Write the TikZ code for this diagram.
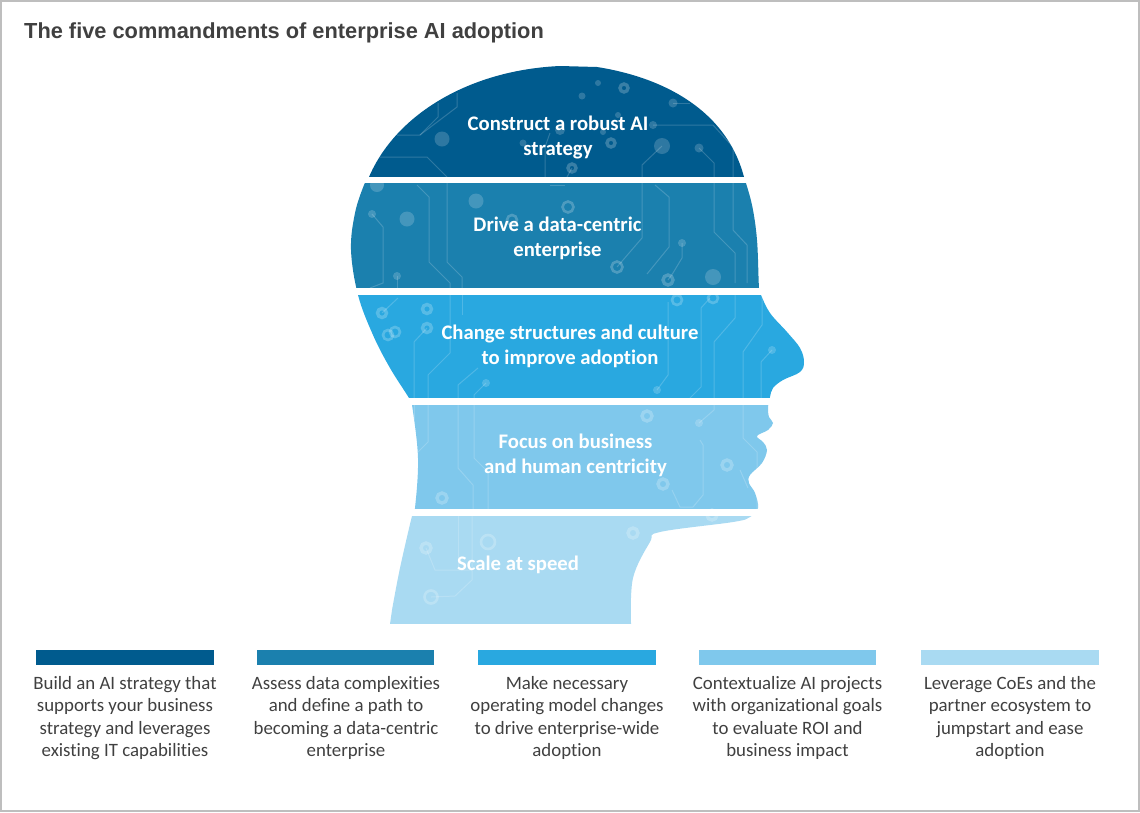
\documentclass[tikz,border=0pt]{standalone}
\usepackage{fontspec}
\setmainfont[Ligatures=NoCommon]{Carlito}
\newfontfamily\titlefont{Liberation Sans}
\definecolor{bandone}{HTML}{005B8E}
\definecolor{bandtwo}{HTML}{1B80AE}
\definecolor{bandthree}{HTML}{29A8E0}
\definecolor{bandfour}{HTML}{7FC8EC}
\definecolor{bandfive}{HTML}{A9DAF2}
\definecolor{capgray}{HTML}{404040}
\definecolor{framegray}{HTML}{BEBEBE}
\def\headpath{(390,624) -- plot[smooth,tension=.6] coordinates {(392,610) (400,568) (412,516) (415,508) (418,458) (412,405) (409,398) (390,368) (373,335) (358,295) (351,250) (355,213) (364,185) (369,177)} .. controls (396,114) and (470,70) .. (560,66) -- (597,67) .. controls (655,76) and (725,105) .. (744,177) -- plot[smooth,tension=.6] coordinates {(744,177) (752,205) (757,240) (759,288) (761,295) (770,313) (787,332) (800,348) (804,362) (800,372) (783,380) (773,388) (770,397) (768,407) (769,417) (773,423) (768,430) (757,436) (763,442) (767,450) (762,463) (750,475) (749,483) (755,493) (758,508) (750,517) (733,522) (660,532) (650,542) (633,578) (631,623)} -- (631,624) -- cycle}
\tikzset{
  band/.style={font=\fontsize{20.7}{25}\selectfont\bfseries, text=white, align=center, inner sep=0pt},
  capt/.style={font=\fontsize{18.85}{22.5}\selectfont, text=capgray, align=center, inner sep=0pt},
  trace/.style={draw=white, draw opacity=.18, line width=1pt},
  dot/.style={fill=white, fill opacity=.18},
  ring/.style={draw=white, draw opacity=.22, line width=3.4pt},
  hollow/.style={draw=white, draw opacity=.22, line width=2.6pt}
}
\begin{document}
\begin{tikzpicture}[x=1pt,y=-1pt]
\useasboundingbox (0,0) rectangle (1140,812);
\draw[framegray, line width=2pt] (1,1) rectangle (1139,811);

\node[anchor=west, inner sep=0pt, font=\titlefont\fontsize{21.8}{24}\selectfont\bfseries, text=capgray] (title) at (24,33) {The five commandments of enterprise AI adoption};

\begin{scope}
\clip \headpath;
\fill[bandone] (340,50) rectangle (820,177);
\fill[bandtwo] (340,183) rectangle (820,288);
\fill[bandthree] (340,295) rectangle (820,398);
\fill[bandfour] (340,405) rectangle (820,509);
\fill[bandfive] (340,516) rectangle (820,624);

\draw[trace] (457,93) -- (457,107) -- (420,135) -- (397,135);
\draw[trace] (438,103) -- (438,117) -- (420,135);
\draw[trace] (373,157) -- (427,157) -- (447,177);
\draw[trace] (673,103) -- (690,103);
\draw[trace] (653,125) -- (713,125) -- (733,147) -- (733,177);
\draw[trace] (733,183) -- (733,230) -- (747,245) -- (747,283);
\draw[trace] (662,146) -- (642,165) -- (642,177);
\draw[trace] (642,183) -- (642,238) -- (617,267);
\draw[trace] (699,148) -- (714,163) -- (714,177);
\draw[trace] (714,183) -- (714,232) -- (735,253) -- (735,283);
\draw[trace] (572,168) -- (567,177);
\draw[trace] (565,185) -- (550,185);
\draw[trace] (545,177) -- (545,147) -- (550,133);
\draw[trace] (417,185) -- (429,197) -- (429,262) -- (450,283) -- (450,288);
\draw[trace] (447,183) -- (447,262) -- (462,277) -- (462,288);
\draw[trace] (372,214) -- (383,227) -- (383,283) -- (370,288);
\draw[trace] (397,276) -- (397,288);
\draw[trace] (655,185) -- (669,197) -- (669,247) -- (647,274);
\draw[line width=2.4pt, trace] (682,243) -- (682,258) -- (673,273) -- (668,280);

\draw[trace] (382,313) -- (398,298);
\draw[trace] (427,328) -- (414,342) -- (414,398);
\draw[trace] (414,405) -- (414,420);
\draw[trace] (450,295) -- (450,353) -- (428,375) -- (428,398);
\draw[trace] (428,405) -- (428,442) -- (418,452);
\draw[trace] (462,295) -- (462,315);
\draw[trace] (478,368) -- (458,385) -- (458,398);
\draw[trace] (458,405) -- (458,468) -- (473,485) -- (473,509);
\draw[trace] (486,383) -- (474,395) -- (474,398);
\draw[trace] (474,405) -- (474,458) -- (488,472) -- (488,509);
\draw[trace] (668,302) -- (668,375) -- (657,390);
\draw[trace] (735,295) -- (735,318) -- (714,342) -- (714,398);
\draw[trace] (714,405) -- (714,410) -- (699,423);
\draw[trace] (710,298) -- (701,308) -- (701,387) -- (690,398);
\draw[trace] (762,295) -- (762,325) -- (743,352) -- (743,398);
\draw[trace] (743,405) -- (743,438) -- (757,452) -- (757,509);
\draw[trace] (772,350) -- (761,362) -- (761,398);
\draw[trace] (700,440) -- (703,445) -- (703,495) -- (693,507) -- (680,507) -- (672,490);
\draw[trace] (740,470) -- (748,488);

\draw[trace] (426,548) -- (435,570) -- (472,570);
\draw[trace] (431,597) -- (455,596) -- (472,580) -- (472,516);
\draw[trace] (458,516) -- (458,568);

\fill[dot] (442,139) circle (7.5);
\fill[dot] (582,96) circle (3.5);
\fill[dot] (598,83) circle (3);
\fill[dot] (673,103) circle (4.5);
\fill[dot] (653,125) circle (4);
\fill[dot] (662,146) circle (8);
\fill[dot] (699,148) circle (4.5);
\fill[dot] (523,143) circle (3.5);
\fill[dot] (560,130) circle (5);
\fill[dot] (603,132) circle (3);
\fill[dot] (618,115) circle (3);
\fill[dot] (476,201) circle (7.5);
\fill[dot] (407,219) circle (7.5);
\fill[dot] (372,214) circle (4);
\fill[dot] (397,276) circle (4);
\fill[dot] (377,185) circle (7);
\fill[dot] (682,243) circle (4);
\fill[dot] (713,277) circle (8);
\fill[dot] (486,383) circle (4);
\fill[dot] (657,390) circle (4);
\fill[dot] (699,423) circle (4);
\fill[dot] (772,350) circle (4);

\draw[ring] (624,88) circle (4);
\draw[ring] (611,143) circle (4);
\draw[ring] (572,168) circle (4);
\draw[hollow] (568,207) circle (5.5);
\draw[hollow] (512,220) circle (5);
\draw[hollow] (617,267) circle (5.5);
\draw[ring] (668,280) circle (5);
\draw[ring] (382,313) circle (4.5);
\draw[ring] (427,309) circle (4.5);
\draw[hollow] (395,332) circle (5);
\draw[hollow] (388,335) circle (5);
\draw[ring] (427,328) circle (4.5);
\draw[hollow] (677,300) circle (5);
\draw[hollow] (713,298) circle (5);
\draw[ring] (647,416) circle (5);
\draw[ring] (727,465) circle (5);
\draw[ring] (663,484) circle (5);
\draw[ring] (442,498) circle (5);
\draw[ring] (426,548) circle (5);
\draw[hollow] (431,597) circle (6.5);
\draw[hollow] (488,542) circle (7);
\draw[ring] (633,533) circle (5);
\draw[ring] (712,515) circle (5);
\end{scope}

\node[band] (strategy) at (558,137.5) {Construct a robust AI\\strategy};
\node[band] (data) at (557.5,238) {Drive a data-centric\\enterprise};
\node[band] (culture) at (570,346) {Change structures and culture\\to improve adoption};
\node[band] (focus) at (575.5,455) {Focus on business\\and human centricity};
\node[band] (scale) at (518,564.5) {Scale at speed};

\fill[bandone] (36,650) rectangle (214,665);
\fill[bandtwo] (257,650) rectangle (434,665);
\fill[bandthree] (478,650) rectangle (656,665);
\fill[bandfour] (699,650) rectangle (876,665);
\fill[bandfive] (921,650) rectangle (1099,665);

\node[capt] (captone) at (125,718) {Build an AI strategy that\\supports your business\\strategy and leverages\\existing IT capabilities};
\node[capt] (capttwo) at (346,718) {Assess data complexities\\and define a path to\\becoming a data-centric\\enterprise};
\node[capt] (captthree) at (567,718) {Make necessary\\operating model changes\\to drive enterprise-wide\\adoption};
\node[capt] (captfour) at (787.5,718) {Contextualize AI projects\\with organizational goals\\to evaluate ROI and\\business impact};
\node[capt] (captfive) at (1010,718) {Leverage CoEs and the\\partner ecosystem to\\jumpstart and ease\\adoption};
\end{tikzpicture}
\end{document}
